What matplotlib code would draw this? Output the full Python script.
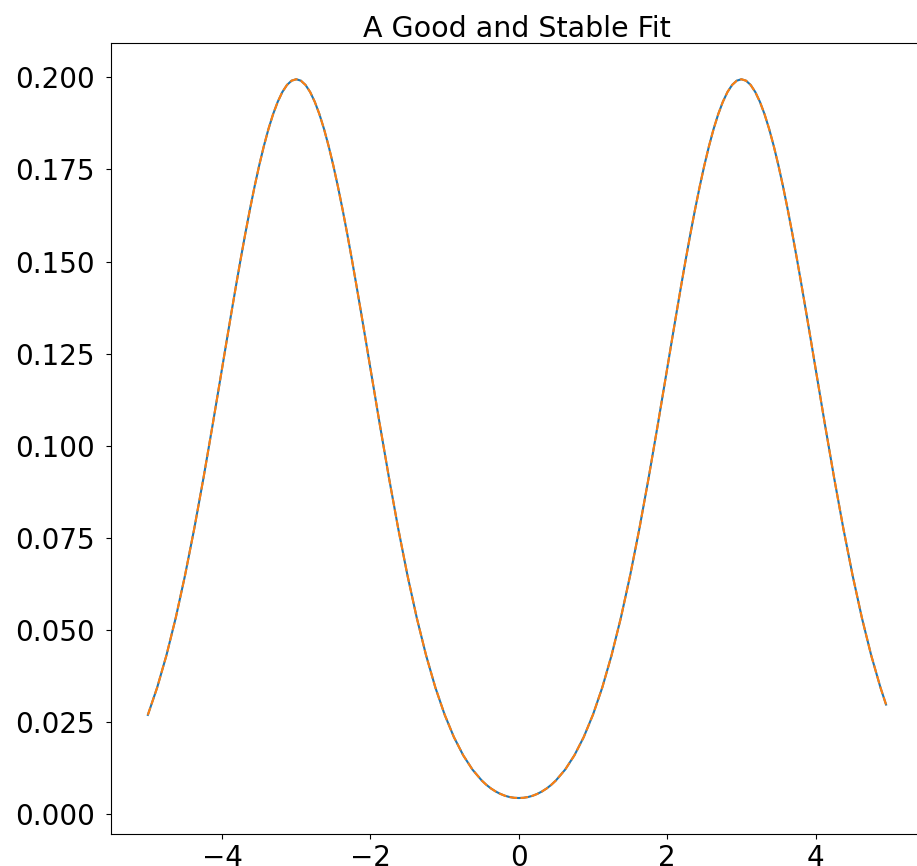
import matplotlib
matplotlib.use("Agg")
import matplotlib.pyplot as plt

# ── Data (two-peak density and its fit) ────────────────────────────
# denser sampling near the two peaks and the trough so the curve stays smooth
x_vals = [-5.0, -4.875, -4.75, -4.625, -4.5, -4.375, -4.25, -4.125,
          -4.0, -3.9375, -3.875, -3.8125, -3.75, -3.6875, -3.625, -3.5625,
          -3.5, -3.4375, -3.375, -3.3125, -3.25, -3.1875, -3.125, -3.0625,
          -3.0, -2.9375, -2.875, -2.8125, -2.75, -2.6875, -2.625, -2.5625,
          -2.5, -2.4375, -2.375, -2.3125, -2.25, -2.1875, -2.125, -2.0625,
          -2.0, -1.875, -1.75, -1.625, -1.5, -1.375, -1.25, -1.125,
          -1.0, -0.875, -0.75, -0.625, -0.5,
          -0.4375, -0.375, -0.3125, -0.25, -0.1875, -0.125, -0.0625,
          0.0, 0.0625, 0.125, 0.1875, 0.25, 0.3125, 0.375, 0.4375,
          0.5, 0.625, 0.75, 0.875, 1.0,
          1.125, 1.25, 1.375, 1.5, 1.625, 1.75, 1.875,
          2.0, 2.0625, 2.125, 2.1875, 2.25, 2.3125, 2.375, 2.4375,
          2.5, 2.5625, 2.625, 2.6875, 2.75, 2.8125, 2.875, 2.9375,
          3.0, 3.0625, 3.125, 3.1875, 3.25, 3.3125, 3.375, 3.4375,
          3.5, 3.5625, 3.625, 3.6875, 3.75, 3.8125, 3.875, 3.9375,
          4.0, 4.125, 4.25, 4.375, 4.5, 4.625, 4.75, 4.875, 4.95]

true_density = [0.02700, 0.03439, 0.04314, 0.05327, 0.06476, 0.07751, 0.09132, 0.10594,
                0.12098, 0.12854, 0.13603, 0.14339, 0.15057, 0.15749, 0.16408, 0.17028,
                0.17603, 0.18126, 0.18593, 0.18997, 0.19333, 0.19600, 0.19792, 0.19908,
                0.19947, 0.19908, 0.19792, 0.19600, 0.19333, 0.18997, 0.18593, 0.18126,
                0.17603, 0.17028, 0.16408, 0.15749, 0.15057, 0.14339, 0.13603, 0.12854,
                0.12098, 0.10594, 0.09132, 0.07751, 0.06477, 0.05328, 0.04316, 0.03443,
                0.02707, 0.02097, 0.01605, 0.01216, 0.00920,
                0.00802, 0.00703, 0.00622, 0.00557, 0.00506, 0.00471, 0.00450,
                0.00444, 0.00450, 0.00471, 0.00506, 0.00557, 0.00622, 0.00703, 0.00802,
                0.00920, 0.01216, 0.01605, 0.02097, 0.02707,
                0.03443, 0.04316, 0.05328, 0.06477, 0.07751, 0.09132, 0.10594,
                0.12098, 0.12854, 0.13603, 0.14339, 0.15057, 0.15749, 0.16408, 0.17028,
                0.17603, 0.18126, 0.18593, 0.18997, 0.19333, 0.19600, 0.19792, 0.19908,
                0.19947, 0.19908, 0.19792, 0.19600, 0.19333, 0.18997, 0.18593, 0.18126,
                0.17603, 0.17028, 0.16408, 0.15749, 0.15057, 0.14339, 0.13603, 0.12854,
                0.12098, 0.10594, 0.09132, 0.07751, 0.06476, 0.05327, 0.04314, 0.03439, 0.02980]

fitted_density = list(true_density)  # the fit sits right on top of the target

y_ticks = [0.0, 0.025, 0.05, 0.075, 0.1, 0.125, 0.15, 0.175, 0.2]
y_tick_labels = ["0.000", "0.025", "0.050", "0.075", "0.100",
                 "0.125", "0.150", "0.175", "0.200"]

# ── Plot ───────────────────────────────────────────────────────────
fig = plt.figure(figsize=(9.17, 8.66), dpi=100)
ax = fig.add_axes([0.121, 0.037, 0.8855, 0.913])

ax.plot(x_vals, true_density, color="C0", lw=1.5)
ax.plot(x_vals, fitted_density, color="C1", lw=1.5, ls="--")

ax.set_title("A Good and Stable Fit", fontsize=20.5, pad=3)
ax.tick_params(labelsize=20)
ax.tick_params(axis="y", pad=8)
ax.set_yticks(y_ticks)
ax.set_yticklabels(y_tick_labels)

plt.savefig("out.png", dpi=100)
plt.close()
